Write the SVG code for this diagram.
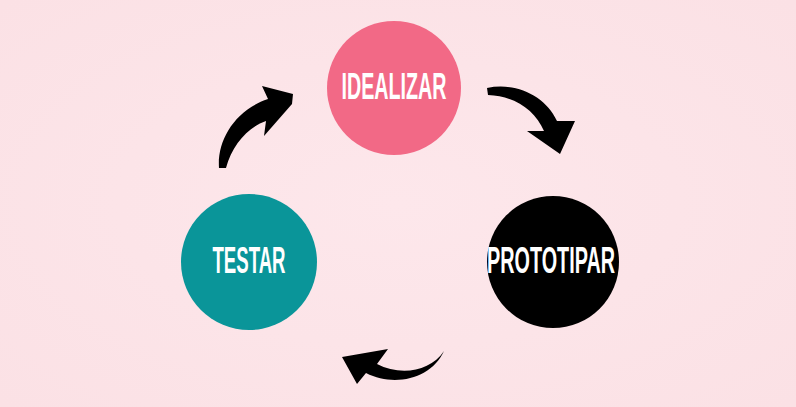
<svg xmlns="http://www.w3.org/2000/svg" width="796" height="407" viewBox="0 0 796 407">
<style>
.lbl{font-family:"Liberation Sans",Arial,sans-serif;font-weight:bold;font-size:37px;fill:#ffffff;text-anchor:middle}
.arr{fill:#000000}
</style>
<defs>
<radialGradient id="bg" cx="0.5" cy="0.5" r="0.7">
<stop offset="0" stop-color="#fde7eb"/>
<stop offset="1" stop-color="#fbe1e5"/>
</radialGradient>
</defs>
<rect width="796" height="407" fill="url(#bg)"/>
<g id="idealizar">
<circle cx="394" cy="88" r="67" fill="#f26986"/>
<text class="lbl" x="394" y="99" textLength="105" lengthAdjust="spacingAndGlyphs">IDEALIZAR</text>
</g>
<g id="prototipar">
<circle cx="553" cy="262" r="66" fill="#000000"/>
<text class="lbl" x="551" y="273" textLength="128" lengthAdjust="spacingAndGlyphs">PROTOTIPAR</text>
</g>
<g id="testar">
<circle cx="249" cy="262" r="68" fill="#0a9599"/>
<text class="lbl" x="249" y="273" textLength="73" lengthAdjust="spacingAndGlyphs">TESTAR</text>
</g>
<g id="connectors">
<path class="arr" d="M 219 168 C 217 140 235 110 268 99 L 262 86 L 293 94 L 292 104 L 264 136 L 266 121 C 248 127 232 145 226 168 Z"/>
<path class="arr" d="M 487 88 C 515 82 545 95 557 121 L 575 121 L 560 154 L 527 131 L 544 131 C 535 110 515 96 488 95 Z"/>
<path class="arr" d="M 444 351 C 430 372 400 376 377 364 L 388 349 L 342 357 L 357 384 L 366 373 C 395 388 432 378 444 351 Z"/>
</g>
</svg>
